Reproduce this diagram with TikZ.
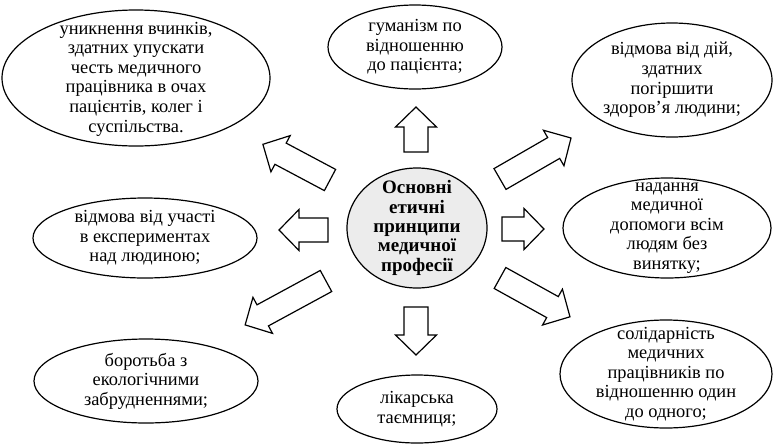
\documentclass[tikz,border=0pt]{standalone}
\usepackage{fontspec}
\setmainfont{Liberation Serif}
\usetikzlibrary{shapes.geometric}
\tikzset{
  bubble/.style={ellipse, draw, line width=1.2pt, inner sep=0pt},
  corebubble/.style={bubble, fill=gray!15},
  txt/.style={align=center, inner sep=0pt, font=\fontsize{18.4}{19.6}\selectfont},
  coretxt/.style={txt, font=\fontsize{19}{19.4}\selectfont\bfseries},
  barrow/.style={draw, line width=1.2pt, fill=white, line join=miter},
}
\newcommand\BlockArrow[3]{%
  \draw[barrow, shift={(#1)}, rotate=#2] (0,-12) -- ({#3-20},-12) -- ({#3-20},-20.5) -- (#3,0) -- ({#3-20},20.5) -- ({#3-20},12) -- (0,12) -- cycle;}
\begin{document}
\begin{tikzpicture}[x=1pt,y=-1pt]
\useasboundingbox (0,0) rectangle (774,445);
% ellipses
\node[bubble, minimum width=268, minimum height=136] (e1) at (136,78) {};
\node[bubble, minimum width=174, minimum height=84] (e2) at (415,47) {};
\node[bubble, minimum width=200, minimum height=114] (e3) at (672,80) {};
\node[bubble, minimum width=224, minimum height=80] (e4) at (145,238) {};
\node[bubble, minimum width=224, minimum height=84] (e5) at (146,381) {};
\node[corebubble, minimum width=140, minimum height=120] (e0) at (417,228) {};
\node[bubble, minimum width=160, minimum height=68] (e7) at (417,409) {};
\node[bubble, minimum width=208, minimum height=100] (e8) at (667,228) {};
\node[bubble, minimum width=212, minimum height=108] (e9) at (666,374) {};
% texts
\node[txt] (t1) at ([yshift=-1]e1.center) {уникнення вчинків,\\здатних упускати\\честь медичного\\працівника в очах\\пацієнтів, колег і\\суспільства.};
\node[txt] (t2) at (e2.center) {гуманізм по\\відношенню\\до пацієнта;};
\node[txt] (t3) at (e3.center) {відмова від дій,\\здатних\\погіршити\\здоров’я людини;};
\node[txt] (t4) at (e4.center) {відмова від участі\\в експериментах\\над людиною;};
\node[txt] (t5) at (e5.center) {боротьба з\\екологічними\\забрудненнями;};
\node[coretxt] (t0) at (e0.center) {Основні\\етичні\\принципи\\медичної\\професії};
\node[txt] (t7) at (e7.center) {лікарська\\таємниця;};
\node[txt] (t8) at (e8.center) {надання\\медичної\\допомоги всім\\людям без\\винятку;};
\node[txt] (t9) at (e9.center) {солідарність\\медичних\\працівників по\\відношенню один\\до одного;};
% block arrows
\BlockArrow{416,152}{90}{45}
\BlockArrow{416,307}{-90}{48}
\BlockArrow{328,230}{180}{49}
\BlockArrow{502,229}{0}{42}
\BlockArrow{330,180}{152}{76}
\BlockArrow{500,179}{30}{82}
\BlockArrow{326,281}{208.5}{92}
\BlockArrow{500,278}{-29}{80}
\end{tikzpicture}
\end{document}
